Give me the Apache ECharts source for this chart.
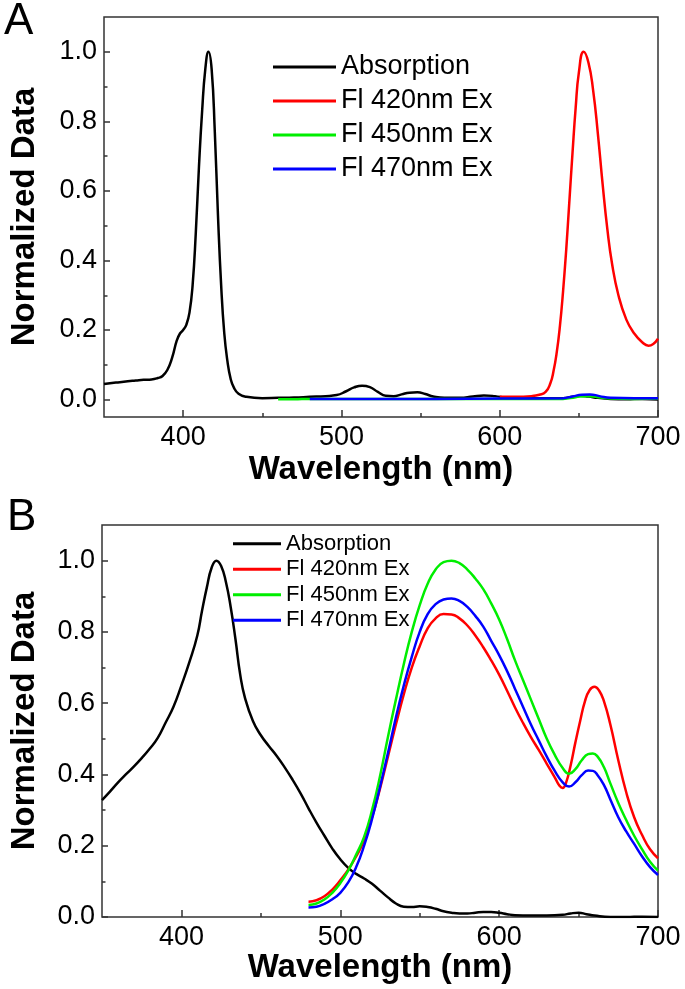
<!DOCTYPE html>
<html>
<head>
<meta charset="utf-8">
<script src="https://cdn.jsdelivr.net/npm/echarts@6/dist/echarts.min.js"></script>
<style>
html,body{margin:0;padding:0;background:#fff;}
#chart{width:685px;height:989px;}
</style>
</head>
<body>
<div id="chart"></div>
<script>
// ---------- DATA ----------
const seriesNames = ['Absorption', 'Fl 420nm Ex', 'Fl 450nm Ex', 'Fl 470nm Ex'];
const panelLabels = ['A', 'B'];
const xTickLabels = [400, 500, 600, 700];
const xMinorTicks = [450, 550, 650];
const yTickLabels = [0, 0.2, 0.4, 0.6, 0.8, 1.0];
const yMinorTicks = [0.1, 0.3, 0.5, 0.7, 0.9];

// Panel A
const absorptionA = [[350,0.045],[355,0.048],[360,0.05],[365,0.053],[370,0.055],[375,0.057],[380,0.058],[384,0.062],[387,0.068],[390,0.085],[393,0.12],[396,0.17],[398,0.19],[400,0.2],[402,0.215],[404,0.25],[406,0.33],[408,0.48],[410,0.67],[412,0.83],[414,0.95],[416,1.0],[418,0.95],[420,0.77],[422,0.53],[424,0.33],[426,0.19],[428,0.11],[430,0.06],[432,0.035],[435,0.017],[440,0.008],[450,0.004],[460,0.005],[470,0.006],[480,0.008],[490,0.01],[497,0.013],[503,0.024],[508,0.035],[513,0.04],[518,0.036],[523,0.022],[528,0.011],[533,0.01],[538,0.015],[543,0.02],[548,0.021],[553,0.016],[558,0.009],[565,0.005],[575,0.005],[583,0.009],[590,0.012],[597,0.01],[605,0.005],[620,0.004],[640,0.004],[646,0.008],[651,0.011],[656,0.009],[662,0.005],[670,0.002],[680,0.001],[690,0.002],[700,0.0]];
const fl420A = [[600,0.008],[610,0.008],[620,0.01],[625,0.014],[629,0.022],[632,0.047],[634,0.082],[636,0.135],[638,0.21],[640,0.31],[642,0.43],[644,0.57],[646,0.71],[648,0.84],[650,0.94],[653,1.0],[656,0.97],[659,0.89],[662,0.765],[665,0.62],[668,0.49],[671,0.39],[675,0.3],[680,0.23],[685,0.19],[690,0.165],[694,0.155],[697,0.16],[700,0.175]];
const fl450A = [[460,0.001],[470,0.001],[480,0.002],[520,0.002],[560,0.002],[600,0.002],[640,0.002],[648,0.007],[655,0.01],[662,0.007],[670,0.003],[685,0.002],[700,0.003]];
const fl470A = [[480,0.002],[520,0.002],[560,0.002],[600,0.003],[640,0.004],[646,0.009],[652,0.014],[657,0.015],[663,0.01],[670,0.005],[685,0.004],[700,0.004]];

// Panel B
const absorptionB = [[350,0.328],[355,0.352],[360,0.377],[365,0.4],[370,0.422],[375,0.446],[380,0.472],[385,0.502],[390,0.545],[395,0.59],[400,0.65],[405,0.715],[410,0.79],[413,0.86],[416,0.925],[419,0.98],[422,1.0],[425,0.985],[428,0.94],[431,0.87],[434,0.78],[437,0.68],[440,0.615],[445,0.55],[450,0.51],[455,0.48],[460,0.452],[465,0.42],[470,0.385],[475,0.347],[480,0.305],[485,0.265],[490,0.228],[495,0.192],[500,0.162],[505,0.138],[510,0.121],[515,0.108],[520,0.093],[525,0.074],[530,0.055],[535,0.038],[540,0.029],[545,0.028],[550,0.03],[555,0.028],[560,0.023],[565,0.016],[570,0.012],[575,0.01],[580,0.01],[585,0.012],[590,0.014],[595,0.014],[600,0.012],[605,0.008],[610,0.005],[620,0.004],[630,0.004],[640,0.006],[645,0.01],[650,0.012],[655,0.008],[660,0.004],[670,0.0],[680,0.0],[690,0.001],[700,0.0]];
const fl420B = [[480,0.043],[485,0.047],[490,0.058],[495,0.077],[500,0.103],[505,0.133],[510,0.17],[515,0.215],[520,0.28],[525,0.36],[530,0.45],[535,0.54],[540,0.625],[545,0.7],[550,0.76],[555,0.81],[560,0.838],[565,0.85],[570,0.849],[575,0.838],[580,0.818],[585,0.79],[590,0.757],[595,0.72],[600,0.68],[605,0.635],[610,0.588],[615,0.545],[620,0.505],[625,0.468],[630,0.43],[635,0.392],[638,0.368],[640,0.362],[642,0.375],[645,0.425],[648,0.49],[651,0.55],[654,0.605],[657,0.637],[660,0.646],[663,0.635],[666,0.605],[670,0.54],[675,0.44],[680,0.35],[685,0.28],[690,0.23],[695,0.19],[700,0.165]];
const fl450B = [[480,0.034],[485,0.038],[490,0.049],[495,0.068],[500,0.095],[505,0.13],[510,0.175],[515,0.225],[520,0.3],[525,0.395],[530,0.505],[535,0.61],[540,0.71],[545,0.8],[550,0.875],[555,0.935],[560,0.975],[565,0.996],[570,1.0],[575,0.993],[580,0.975],[585,0.95],[590,0.92],[595,0.88],[600,0.835],[605,0.78],[610,0.72],[615,0.665],[620,0.61],[625,0.555],[630,0.5],[635,0.455],[640,0.418],[644,0.402],[648,0.415],[652,0.44],[656,0.457],[659,0.459],[662,0.45],[666,0.42],[670,0.375],[675,0.32],[680,0.272],[685,0.228],[690,0.19],[695,0.155],[700,0.13]];
const fl470B = [[480,0.027],[485,0.029],[490,0.037],[495,0.05],[500,0.068],[505,0.097],[510,0.14],[515,0.2],[520,0.275],[525,0.365],[530,0.46],[535,0.56],[540,0.65],[545,0.73],[550,0.8],[555,0.85],[560,0.878],[565,0.891],[570,0.894],[575,0.887],[580,0.87],[585,0.845],[590,0.815],[595,0.775],[600,0.735],[605,0.69],[610,0.64],[615,0.59],[620,0.54],[625,0.495],[630,0.45],[635,0.41],[640,0.378],[644,0.366],[648,0.378],[652,0.398],[656,0.411],[659,0.41],[662,0.398],[666,0.37],[670,0.33],[675,0.28],[680,0.24],[685,0.205],[690,0.17],[695,0.14],[700,0.118]];

// ---------- STYLE ----------
const FONT = '"Liberation Sans", Arial, Helvetica, sans-serif';
const AXIS_COLOR = '#333';
const colors = ['#000000', '#ff0000', '#00ee00', '#0000ff'];

const chart = echarts.init(document.getElementById('chart'), null, {renderer: 'canvas'});

function xMain(gi, nameGap) {
  return {
    type: 'value', gridIndex: gi, min: 350, max: 700, position: 'bottom',
    name: 'Wavelength (nm)', nameLocation: 'middle', nameGap: nameGap,
    nameTextStyle: {fontFamily: FONT, fontSize: 33, fontWeight: 'bold', color: '#000'},
    axisLine: {show: false, onZero: false},
    axisTick: {show: true, inside: true, length: 7, customValues: xTickLabels, lineStyle: {color: AXIS_COLOR, width: 1.5}},
    axisLabel: {show: true, customValues: xTickLabels, margin: 7, fontFamily: FONT, fontSize: 27, color: '#000'},
    splitLine: {show: false}
  };
}
function xMinor(gi) {
  return {
    type: 'value', gridIndex: gi, min: 350, max: 700, position: 'bottom',
    axisLine: {show: false, onZero: false},
    axisTick: {show: true, inside: true, length: 4, customValues: xMinorTicks, lineStyle: {color: AXIS_COLOR, width: 1.5}},
    axisLabel: {show: false}, splitLine: {show: false}
  };
}
function yMain(gi, min, nameGap) {
  return {
    type: 'value', gridIndex: gi, min: min, max: 1.1, position: 'left',
    name: 'Normalized Data', nameLocation: 'middle', nameGap: nameGap,
    nameTextStyle: {fontFamily: FONT, fontSize: 33, fontWeight: 'bold', color: '#000'},
    axisLine: {show: false, onZero: false},
    axisTick: {show: true, inside: true, length: 6, customValues: yTickLabels, lineStyle: {color: AXIS_COLOR, width: 1.5}},
    axisLabel: {show: true, customValues: yTickLabels, margin: 7, fontFamily: FONT, fontSize: 27, color: '#000',
      formatter: v => Number(v).toFixed(1)},
    splitLine: {show: false}
  };
}
function yMinor(gi, min) {
  return {
    type: 'value', gridIndex: gi, min: min, max: 1.1, position: 'left',
    axisLine: {show: false, onZero: false},
    axisTick: {show: true, inside: true, length: 3.5, customValues: yMinorTicks, lineStyle: {color: AXIS_COLOR, width: 1.5}},
    axisLabel: {show: false}, splitLine: {show: false}
  };
}
function line(name, data, colorIdx, xi, yi, width) {
  return {
    type: 'line', name: name, data: data, xAxisIndex: xi, yAxisIndex: yi,
    showSymbol: false, symbol: 'none', smooth: 0.5,
    lineStyle: {color: colors[colorIdx], width: width}, itemStyle: {color: colors[colorIdx]},
    z: 2 + colorIdx
  };
}

const option = {
  animation: false,
  backgroundColor: '#fff',
  title: [
    {text: panelLabels[0], left: 4, top: 0, padding: 0, textStyle: {fontFamily: FONT, fontSize: 44, fontWeight: 'normal', color: '#000'}},
    {text: panelLabels[1], left: 7, top: 496, padding: 0, textStyle: {fontFamily: FONT, fontSize: 44, fontWeight: 'normal', color: '#000'}}
  ],
  grid: [
    {left: 94, top: 17, width: 564, height: 400, show: true, borderColor: AXIS_COLOR, borderWidth: 1.5, backgroundColor: 'transparent'},
    {left: 90, top: 525, width: 568, height: 392, show: true, borderColor: AXIS_COLOR, borderWidth: 1.5, backgroundColor: 'transparent'}
  ],
  legend: [
    {orient: 'vertical', left: 273, top: 50, padding: 0, itemGap: 0, itemWidth: 63, itemHeight: 3, icon: 'rect',
      textStyle: {fontFamily: FONT, fontSize: 27, lineHeight: 34, color: '#000'}, data: seriesNames, selectedMode: false},
    {orient: 'vertical', left: 233, top: 531, padding: 0, itemGap: 0, itemWidth: 48, itemHeight: 3, icon: 'rect',
      textStyle: {fontFamily: FONT, fontSize: 22, lineHeight: 25.5, color: '#000'}, data: seriesNames, selectedMode: false}
  ],
  xAxis: [xMain(0, 36), xMain(1, 34), xMinor(0), xMinor(1)],
  yAxis: [yMain(0, -0.05, 63), yMain(1, 0, 61), yMinor(0, -0.05), yMinor(1, 0)],
  series: [
    line(seriesNames[0], absorptionA, 0, 0, 0, 2.5),
    line(seriesNames[1], fl420A, 1, 0, 0, 2.5),
    line(seriesNames[2], fl450A, 2, 0, 0, 2.5),
    line(seriesNames[3], fl470A, 3, 0, 0, 2.5),
    line(seriesNames[0], absorptionB, 0, 1, 1, 2.5),
    line(seriesNames[1], fl420B, 1, 1, 1, 2.5),
    line(seriesNames[2], fl450B, 2, 1, 1, 2.5),
    line(seriesNames[3], fl470B, 3, 1, 1, 2.5)
  ]
};
chart.setOption(option);
</script>
</body>
</html>
